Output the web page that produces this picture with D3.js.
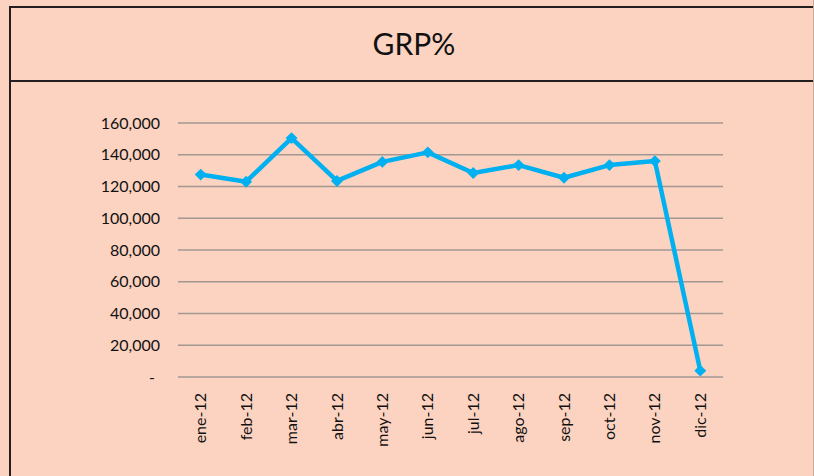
<!DOCTYPE html>
<html><head><meta charset="utf-8">
<script src="https://cdn.jsdelivr.net/npm/d3@7"></script>
<style>html,body{margin:0;padding:0;background:#FCD3C1;}svg{display:block;}</style>
</head><body>
<script>
const categories = ["ene-12","feb-12","mar-12","abr-12","may-12","jun-12","jul-12","ago-12","sep-12","oct-12","nov-12","dic-12"];
const values = [127500,123000,150500,123500,135500,141500,128500,133500,125500,133500,136000,4000];
const yTicks = [0,20000,40000,60000,80000,100000,120000,140000,160000];
const title = "GRP%";

const W = 814, H = 476;
const FONT = "Lato, 'Open Sans', sans-serif";
const svg = d3.select("body").append("svg").attr("width", W).attr("height", H);
svg.append("rect").attr("width", W).attr("height", H).attr("fill", "#FCD3C1");

// frame lines
const frame = "#231F20";
svg.append("line").attr("x1", 10).attr("x2", W).attr("y1", 7).attr("y2", 7).attr("stroke", frame).attr("stroke-width", 2);
svg.append("line").attr("x1", 10).attr("x2", W).attr("y1", 81).attr("y2", 81).attr("stroke", frame).attr("stroke-width", 2);
svg.append("line").attr("x1", 10).attr("x2", 10).attr("y1", 6).attr("y2", H).attr("stroke", frame).attr("stroke-width", 2);
svg.append("line").attr("x1", 813.5).attr("x2", 813.5).attr("y1", 0).attr("y2", H).attr("stroke", "#C8A89A").attr("stroke-width", 1);

svg.append("text").attr("x", 414).attr("y", 55).attr("text-anchor", "middle")
  .attr("font-family", FONT).attr("font-size", 30).attr("fill", "#111")
  .text(title);

const x = d3.scaleBand().domain(categories).range([178, 723]);
const y = d3.scaleLinear().domain([0, 160000]).range([377, 123]);

// gridlines
svg.append("g").selectAll("line").data(yTicks).join("line")
  .attr("x1", 178).attr("x2", 723)
  .attr("y1", d => y(d)).attr("y2", d => y(d))
  .attr("stroke", "#A19892").attr("stroke-width", 1.5);

// y axis labels
const yAxis = d3.axisLeft(y).tickValues(yTicks).tickSize(0).tickPadding(0)
  .tickFormat(d => d === 0 ? "-" : d3.format(",")(d));
const ga = svg.append("g").attr("transform", "translate(160,0)").call(yAxis);
ga.select(".domain").remove();
ga.selectAll("text").attr("font-family", FONT).attr("font-size", 16).attr("fill", "#111")
  .attr("dx", d => d === 0 ? -5 : 0);

// x axis labels
const xAxis = d3.axisBottom(x).tickSize(0).tickPadding(0);
const gx = svg.append("g").attr("transform", "translate(0,393)").call(xAxis);
gx.select(".domain").remove();
gx.selectAll("text")
  .attr("font-family", FONT).attr("font-size", 16).attr("fill", "#111")
  .attr("transform", "rotate(-90)").attr("text-anchor", "end")
  .attr("x", 0).attr("y", 0).attr("dy", "0.35em");

// line
const line = d3.line().x((d, i) => x(categories[i]) + x.bandwidth() / 2).y(d => y(d));
svg.append("path").datum(values).attr("d", line).attr("fill", "none")
  .attr("stroke", "#00B0F0").attr("stroke-width", 4.5).attr("stroke-linejoin", "round");

svg.append("g").selectAll("path").data(values).join("path")
  .attr("d", d3.symbol().type(d3.symbolDiamond2).size(90))
  .attr("transform", (d, i) => `translate(${x(categories[i]) + x.bandwidth() / 2},${y(d)})`)
  .attr("fill", "#00B0F0");
</script>
</body></html>
